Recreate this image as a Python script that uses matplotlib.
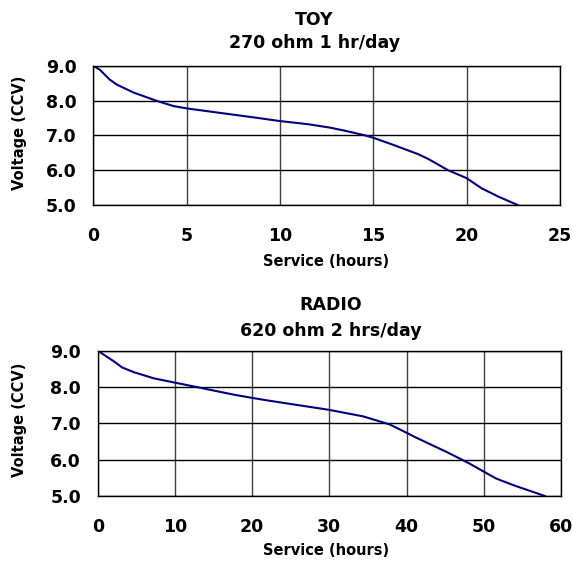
import matplotlib
matplotlib.use("Agg")
import matplotlib.pyplot as plt

# Toy test: 270 ohm 1 hr/day
toy_hours = [0, 0.36, 0.86, 1.25, 2.15, 3.4, 4.3, 5.05, 7.0, 8.8, 10.0, 11.5, 12.7,
             13.5, 14.55, 15.0, 16.0, 17.4, 17.95, 19.0, 20.0, 20.8, 21.7, 22.73]
toy_volts = [9.0, 8.88, 8.61, 8.46, 8.23, 7.99, 7.84, 7.77, 7.63, 7.50, 7.41, 7.32, 7.22,
             7.13, 7.0, 6.93, 6.74, 6.46, 6.32, 6.0, 5.77, 5.48, 5.24, 5.0]

# Radio test: 620 ohm 2 hrs/day
radio_hours = [0, 2.07, 3.15, 4.65, 7.24, 10.0, 12.8, 17.6, 20.0, 22.3, 30.0, 34.4,
               37.8, 40.0, 41.3, 45.2, 48.0, 50.0, 51.6, 53.8, 57.9]
radio_volts = [9.0, 8.71, 8.54, 8.41, 8.24, 8.12, 8.0, 7.79, 7.70, 7.62, 7.37, 7.19,
               6.97, 6.74, 6.60, 6.21, 5.91, 5.67, 5.48, 5.30, 5.0]

y_ticks = [5.0, 6.0, 7.0, 8.0, 9.0]

fig = plt.figure(figsize=(5.73, 5.61), dpi=100)
ax1 = fig.add_axes([0.1628, 0.6346, 0.8145, 0.2483])
ax2 = fig.add_axes([0.1705, 0.1159, 0.8086, 0.2590])


def style(ax, hours, volts, xmax, xstep):
    ax.plot(hours, volts, color="#000080", lw=1.5)
    ax.set_xlim(0, xmax)
    ax.set_ylim(5.0, 9.0)
    ax.set_xticks(range(0, xmax + 1, xstep))
    ax.set_yticks(y_ticks)
    ax.set_yticklabels([f"{v:.1f}" for v in y_ticks])
    ax.grid(True, axis="y", color="black", lw=1.0)
    ax.grid(True, axis="x", color="#404040", lw=1.0)
    ax.set_axisbelow(True)
    for s in ax.spines.values():
        s.set_color("black")
        s.set_linewidth(1.0)
    ax.tick_params(length=0, labelsize=12.5)
    ax.tick_params(axis="x", pad=15.5)
    ax.tick_params(axis="y", pad=12)
    for lab in ax.get_xticklabels() + ax.get_yticklabels():
        lab.set_fontweight("bold")


style(ax1, toy_hours, toy_volts, 25, 5)
style(ax2, radio_hours, radio_volts, 60, 10)

# titles
fig.text(0.5489, 0.9554, "TOY", ha="center", va="baseline", fontsize=12.5, fontweight="bold")
fig.text(0.5489, 0.9139, "270 ohm 1 hr/day", ha="center", va="baseline", fontsize=12.5, fontweight="bold")
fig.text(0.5777, 0.4474, "RADIO", ha="center", va="baseline", fontsize=12.5, fontweight="bold")
fig.text(0.5777, 0.4016, "620 ohm 2 hrs/day", ha="center", va="baseline", fontsize=12.5, fontweight="bold")

# axis labels
fig.text(0.5698, 1 - 266 / 561, "Service (hours)", ha="center", va="baseline", fontsize=10.5, fontweight="bold")
fig.text(0.5698, 1 - 555 / 561, "Service (hours)", ha="center", va="baseline", fontsize=10.5, fontweight="bold")
fig.text(0.0332, 0.7636, "Voltage (CCV)", ha="center", va="center", rotation=90, fontsize=10.5, fontweight="bold")
fig.text(0.0349, 0.2513, "Voltage (CCV)", ha="center", va="center", rotation=90, fontsize=10.5, fontweight="bold")

fig.savefig("out.png", dpi=100)
